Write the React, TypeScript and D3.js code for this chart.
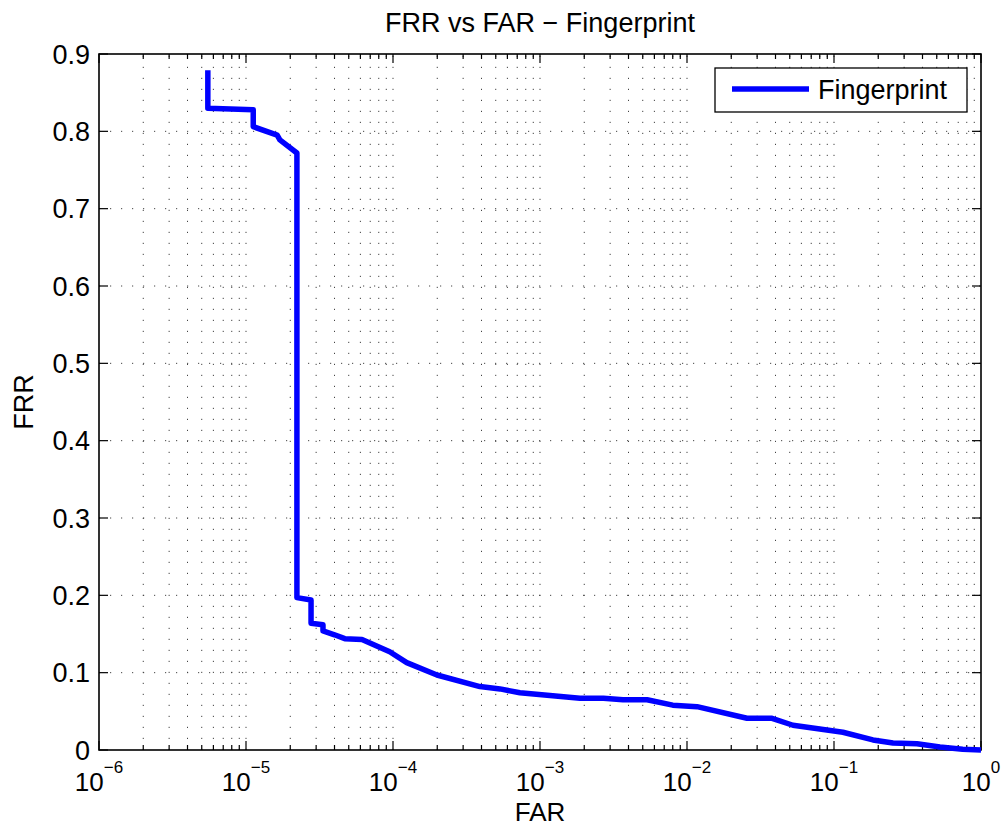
import React from "react";
import * as d3 from "d3";

const far = [5.5e-6, 5.5e-6, 1.12e-5, 1.12e-5, 1.63e-5, 1.7e-5, 2.22e-5, 2.22e-5, 2.77e-5, 2.77e-5, 3.34e-5, 3.34e-5, 4.0e-5, 4.7e-5, 6.15e-5, 9.5e-5, 1.24e-4, 1.99e-4, 3.9e-4, 5.35e-4, 7.3e-4, 1.87e-3, 2.7e-3, 3.67e-3, 5.35e-3, 8.0e-3, 1.17e-2, 2.56e-2, 3.79e-2, 5.26e-2, 0.115, 0.184, 0.252, 0.367, 0.526, 0.75, 1.0];
const frr = [0.879, 0.830, 0.828, 0.806, 0.795, 0.789, 0.772, 0.197, 0.194, 0.164, 0.162, 0.154, 0.149, 0.144, 0.143, 0.127, 0.113, 0.097, 0.082, 0.079, 0.074, 0.067, 0.067, 0.065, 0.065, 0.058, 0.056, 0.041, 0.041, 0.032, 0.023, 0.013, 0.009, 0.008, 0.004, 0.001, 0];

const xMajorExponents = [-6, -5, -4, -3, -2, -1, 0];
const yTicks = [0, 0.1, 0.2, 0.3, 0.4, 0.5, 0.6, 0.7, 0.8, 0.9];
const yTickLabels = ["0", "0.1", "0.2", "0.3", "0.4", "0.5", "0.6", "0.7", "0.8", "0.9"];
const title = "FRR vs FAR \u2212 Fingerprint";
const xLabel = "FAR";
const yLabel = "FRR";
const seriesName = "Fingerprint";

const W = 1003, H = 827;
const L = 99, R = 981, T = 54, B = 750;
const FONT = "'Liberation Sans', Arial, Helvetica, sans-serif";

export default function App() {
  const x = d3.scaleLog().domain([1e-6, 1]).range([L, R]);
  const y = d3.scaleLinear().domain([0, 0.9]).range([B, T]);

  const majors = xMajorExponents.map((e) => Math.pow(10, e));
  const minors: number[] = [];
  for (let e = -6; e < 0; e++) {
    for (let k = 2; k <= 9; k++) minors.push(k * Math.pow(10, e));
  }
  const allX = [...majors, ...minors];

  const pts: [number, number][] = far.map((f, i) => [f, frr[i]]);
  const line = d3.line<[number, number]>().x((d) => x(d[0])).y((d) => y(d[1]));

  const gridStyle = { stroke: "#444", strokeWidth: 1, strokeDasharray: "1.2 9.8" };

  return (
    <svg width={W} height={H} style={{ position: "absolute", left: 0, top: 0, background: "#fff" }} fontFamily={FONT}>
      <rect x={0} y={0} width={W} height={H} fill="#fff" />
      {/* grid */}
      {allX.filter((v) => v > 1e-6 && v < 1).map((v, i) => (
        <line key={"gx" + i} x1={x(v)} x2={x(v)} y1={B} y2={T} {...gridStyle} />
      ))}
      {yTicks.filter((v) => v > 0 && v < 0.9).map((v, i) => (
        <line key={"gy" + i} x1={L} x2={R} y1={y(v)} y2={y(v)} {...gridStyle} />
      ))}
      {/* ticks */}
      {majors.map((v, i) => (
        <g key={"mt" + i}>
          <line x1={x(v)} x2={x(v)} y1={B} y2={B - 9} stroke="#000" strokeWidth={1.2} />
          <line x1={x(v)} x2={x(v)} y1={T} y2={T + 9} stroke="#000" strokeWidth={1.2} />
        </g>
      ))}
      {minors.map((v, i) => (
        <g key={"nt" + i}>
          <line x1={x(v)} x2={x(v)} y1={B} y2={B - 5} stroke="#000" strokeWidth={1.2} />
          <line x1={x(v)} x2={x(v)} y1={T} y2={T + 5} stroke="#000" strokeWidth={1.2} />
        </g>
      ))}
      {yTicks.map((v, i) => (
        <g key={"yt" + i}>
          <line x1={L} x2={L + 9} y1={y(v)} y2={y(v)} stroke="#000" strokeWidth={1.2} />
          <line x1={R} x2={R - 9} y1={y(v)} y2={y(v)} stroke="#000" strokeWidth={1.2} />
        </g>
      ))}
      {/* frame */}
      <rect x={L} y={T} width={R - L} height={B - T} fill="none" stroke="#000" strokeWidth={1.6} />
      {/* data line */}
      <path d={line(pts) || ""} fill="none" stroke="#0000ff" strokeWidth={5.5} strokeLinejoin="round" strokeLinecap="butt" />
      {/* y tick labels */}
      {yTicks.map((v, i) => (
        <text key={"yl" + i} x={L - 9} y={y(v)} dy="0.36em" textAnchor="end" fontSize={27} fill="#000">
          {yTickLabels[i]}
        </text>
      ))}
      {/* x tick labels */}
      {xMajorExponents.map((e, i) => (
        <text key={"xl" + i} x={x(Math.pow(10, e))} y={791} textAnchor="middle" fontSize={26} fill="#000">
          10
          <tspan dy={-18} fontSize={17}>{e === 0 ? "0" : "\u2212" + Math.abs(e)}</tspan>
        </text>
      ))}
      {/* labels */}
      <text x={(L + R) / 2} y={32} textAnchor="middle" fontSize={27} fill="#000">{title}</text>
      <text x={(L + R) / 2} y={821} textAnchor="middle" fontSize={26} fill="#000">{xLabel}</text>
      <text transform={`translate(33, ${(T + B) / 2}) rotate(-90)`} textAnchor="middle" fontSize={27} fill="#000">{yLabel}</text>
      {/* legend */}
      <rect x={715} y={68} width={252} height={44} fill="#fff" stroke="#000" strokeWidth={1.3} />
      <line x1={732} x2={809} y1={89} y2={89} stroke="#0000ff" strokeWidth={5.5} />
      <text x={818} y={99} fontSize={27} fill="#000">{seriesName}</text>
    </svg>
  );
}
